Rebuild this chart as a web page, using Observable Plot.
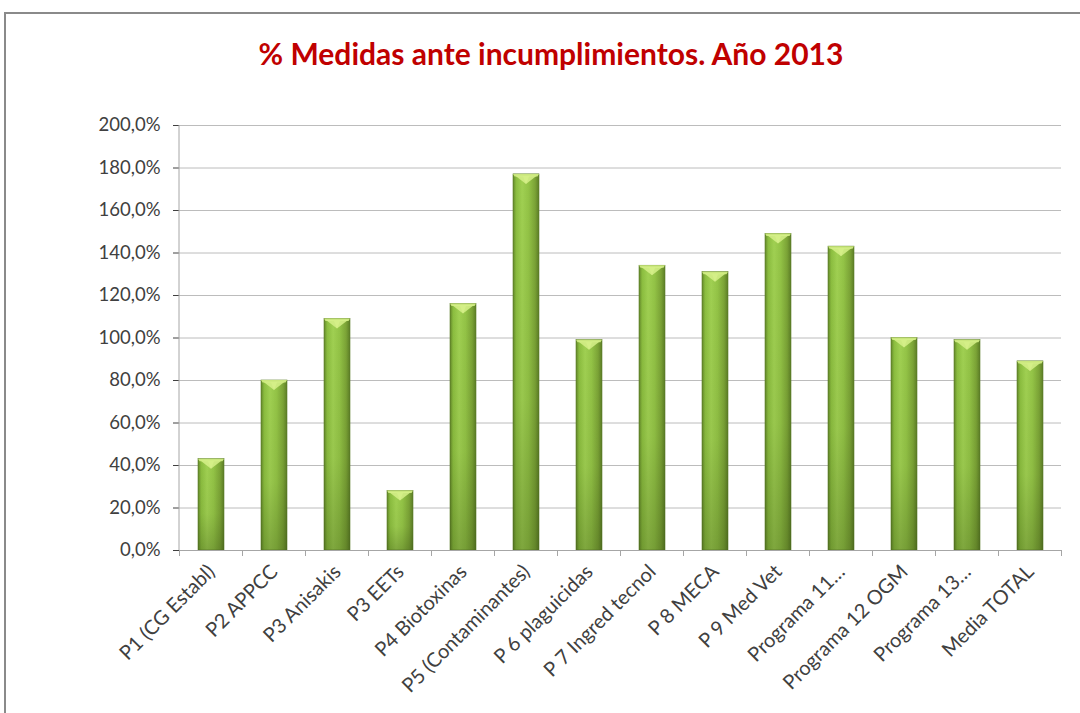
<!DOCTYPE html>
<html>
<head>
<meta charset="utf-8">
<script src="https://cdn.jsdelivr.net/npm/d3@7"></script>
<script src="https://cdn.jsdelivr.net/npm/@observablehq/plot@0.6"></script>
<style>
  html, body { margin: 0; padding: 0; background: #fff; }
  #wrap { position: relative; width: 1080px; height: 713px; overflow: hidden; }
  #frame { position: absolute; left: 4px; top: 12px; width: 1100px; height: 720px; border: 2px solid #8a8a8a; box-sizing: border-box; }
  #title { position: absolute; left: 0; width: 1102px; top: 35px; text-align: center; font-family: Lato, "Open Sans", sans-serif; font-weight: bold; font-size: 30px; color: #c00000; }
  #chart { position: absolute; left: 0; top: 0; }
</style>
</head>
<body>
<div id="wrap">
  <div id="frame"></div>
  <div id="chart"></div>
  <div id="title">% Medidas ante incumplimientos. Año 2013</div>
</div>
<script>
const categories = ["P1 (CG Establ)", "P2 APPCC", "P3 Anisakis", "P3 EETs", "P4 Biotoxinas", "P5 (Contaminantes)", "P 6 plaguicidas", "P 7 Ingred tecnol", "P 8 MECA", "P 9 Med Vet", "Programa 11…", "Programa 12 OGM", "Programa 13…", "Media TOTAL"];
const values = [43, 80, 109, 28, 116, 177, 99, 134, 131, 149, 143, 100, 99, 89];
const yTicks = [0, 20, 40, 60, 80, 100, 120, 140, 160, 180, 200];

const data = categories.map((c, i) => ({cat: c, value: values[i]}));
const fmt = d => d.toFixed(1).replace(".", ",") + "%";

const defsMark = () => {
  const defs = d3.create("svg:defs");
  const g = defs.append("linearGradient").attr("id", "barGrad").attr("x1", "0").attr("x2", "1").attr("y1", "0").attr("y2", "0");
  [["0%", "#628629"], ["12%", "#8bbd3f"], ["35%", "#a0d052"], ["60%", "#93c346"], ["85%", "#7ba336"], ["100%", "#5c7d26"]]
    .forEach(([o, c]) => g.append("stop").attr("offset", o).attr("stop-color", c));
  const v = defs.append("linearGradient").attr("id", "shadeGrad").attr("x1", "0").attr("x2", "0").attr("y1", "0").attr("y2", "1");
  [["0%", "rgba(40,60,10,0)"], ["60%", "rgba(40,60,10,0.06)"], ["100%", "rgba(40,60,10,0.28)"]]
    .forEach(([o, c]) => v.append("stop").attr("offset", o).attr("stop-color", c));
  const f = defs.append("filter").attr("id", "glow").attr("x", "-30%").attr("y", "-10%").attr("width", "160%").attr("height", "120%");
  f.append("feDropShadow").attr("dx", 0).attr("dy", 0).attr("stdDeviation", 1.6).attr("flood-color", "#777").attr("flood-opacity", 0.55);
  return defs.node();
};

// x-axis boundary tick marks (Excel style) drawn from the band scale
const boundaryTicks = (index, scales, values_, dims) => {
  const g = d3.create("svg:g").attr("stroke", "#a6a6a6").attr("stroke-width", 1);
  const step = scales.scales.x.step;
  const bw = scales.scales.x.bandwidth;
  const y0 = dims.height - dims.marginBottom;
  const xs = categories.map(c => scales.x(c) - (step - bw) / 2);
  xs.push(scales.x(categories[categories.length - 1]) + bw + (step - bw) / 2);
  xs.forEach(x => g.append("line").attr("x1", x).attr("x2", x).attr("y1", y0).attr("y2", y0 + 6));
  return g.node();
};

// bevel highlight at the top of each bar, positioned through the scales
const bevels = (index, scales) => {
  const g = d3.create("svg:g");
  const bw = scales.scales.x.bandwidth;
  data.forEach(d => {
    const x0 = scales.x(d.cat), x1 = x0 + bw, cx = x0 + bw / 2;
    const y0 = scales.y(d.value);
    g.append("polygon")
      .attr("points", `${x0},${y0} ${x1},${y0} ${x1 - 1.5},${y0 + 2.5} ${cx + 3},${y0 + 2.5} ${cx},${y0 + 10} ${cx - 3},${y0 + 2.5} ${x0 + 1.5},${y0 + 2.5}`)
      .attr("fill", "#c9e67c");
    g.append("polygon")
      .attr("points", `${x0 + 2},${y0 + 1.5} ${x1 - 2},${y0 + 1.5} ${cx},${y0 + 10}`)
      .attr("fill", "#d6f08a").attr("opacity", 0.85);
  });
  return g.node();
};

const chart = Plot.plot({
  width: 1080,
  height: 713,
  marginLeft: 179,
  marginRight: 19,
  marginTop: 125,
  marginBottom: 163,
  style: {fontFamily: "Lato, 'Open Sans', sans-serif", fontSize: "18.5px", color: "#404040", background: "transparent", overflow: "visible"},
  x: {domain: categories, paddingInner: 0.59, paddingOuter: 0.295, label: null, tickSize: 0, tickRotate: -45, tickPadding: 18},
  y: {domain: [0, 200], ticks: yTicks, tickFormat: fmt, label: null, tickSize: 6, tickPadding: 13},
  marks: [
    defsMark,
    Plot.ruleY(yTicks.slice(1), {stroke: "#bcbcbc", strokeWidth: 1}),
    Plot.barY(data, {x: "cat", y: "value", fill: "url(#barGrad)", stroke: "#5d7d29", strokeWidth: 0.6, style: {filter: "url(#glow)"}}),
    Plot.barY(data, {x: "cat", y: "value", fill: "url(#shadeGrad)"}),
    bevels,
    Plot.ruleY([0], {stroke: "#a6a6a6"}),
    boundaryTicks
  ]
});
document.getElementById("chart").appendChild(chart);
const svg = d3.select(chart);
svg.selectAll("g[aria-label='x-axis tick label'] text").style("font-size", "20px");
svg.append("line").attr("x1", 179).attr("x2", 179).attr("y1", 125).attr("y2", 550).attr("stroke", "#a6a6a6");
</script>
</body>
</html>
